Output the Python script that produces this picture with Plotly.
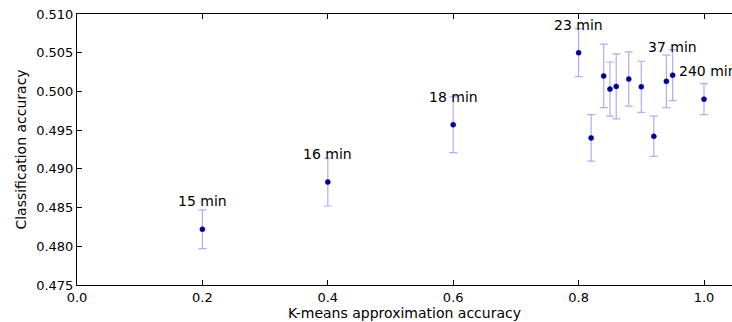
import plotly.graph_objects as go

kmeans_acc = [0.2, 0.4, 0.6, 0.8, 0.82, 0.84, 0.85, 0.86, 0.88, 0.90, 0.92, 0.94, 0.95, 1.0]
class_acc = [0.4822, 0.4883, 0.4957, 0.5050, 0.4940, 0.5020, 0.5003, 0.50065, 0.5016, 0.5006, 0.4942, 0.5013, 0.5021, 0.4990]
errors = [0.0025, 0.0031, 0.0036, 0.0031, 0.0030, 0.0041, 0.0035, 0.0042, 0.0035, 0.0033, 0.0026, 0.0034, 0.0033, 0.0020]

label_x = [0.2, 0.4, 0.6, 0.8, 0.95, 1.0]
label_text = ["15 min", "16 min", "18 min", "23 min", "37 min", "240 min"]

FONT = "DejaVu Sans"

fig = go.Figure()
fig.add_trace(go.Scatter(
    x=kmeans_acc, y=class_acc, mode="markers",
    marker=dict(color="#000080", size=5, line=dict(color="#0000cc", width=0.6)),
    error_y=dict(type="data", array=errors, visible=True,
                 color="#adadf8", thickness=1.2, width=4),
    showlegend=False, cliponaxis=False,
))

anns = []
for lx, lt in zip(label_x, label_text):
    ly = class_acc[kmeans_acc.index(lx)]
    anns.append(dict(x=lx, y=ly, text=lt, showarrow=False, xanchor="center",
                     yanchor="middle", yshift=28, xshift=(4 if lt == "240 min" else 0),
                     font=dict(family=FONT, size=14, color="black")))

fig.update_layout(
    width=732, height=322,
    margin=dict(l=77, r=0, t=14, b=37, autoexpand=False),
    paper_bgcolor="white", plot_bgcolor="white",
    font=dict(family=FONT, size=13, color="black"),
    annotations=anns,
    xaxis=dict(
        range=[0, 655 / 627], tickvals=[0.0, 0.2, 0.4, 0.6, 0.8, 1.0],
        ticktext=["0.0", "0.2", "0.4", "0.6", "0.8", "1.0"],
        showgrid=False, zeroline=False, showline=True, linecolor="black", linewidth=1,
        mirror="allticks", ticks="inside", ticklen=5, tickcolor="black",
        title=dict(text="K-means approximation accuracy", font=dict(size=14), standoff=2),
        tickfont=dict(size=13), automargin=False,
    ),
    yaxis=dict(
        range=[0.475, 0.510],
        tickvals=[0.475, 0.480, 0.485, 0.490, 0.495, 0.500, 0.505, 0.510],
        ticktext=["0.475", "0.480", "0.485", "0.490", "0.495", "0.500", "0.505", "0.510"],
        showgrid=False, zeroline=False, showline=True, linecolor="black", linewidth=1,
        ticks="inside", ticklen=5, tickcolor="black",
        title=dict(text="Classification accuracy", font=dict(size=14), standoff=6),
        tickfont=dict(size=13), automargin=False,
    ),
)

fig.write_html("out.html", config={"displayModeBar": False},
               post_script="document.body.style.margin='0';document.body.style.overflow='hidden';")
